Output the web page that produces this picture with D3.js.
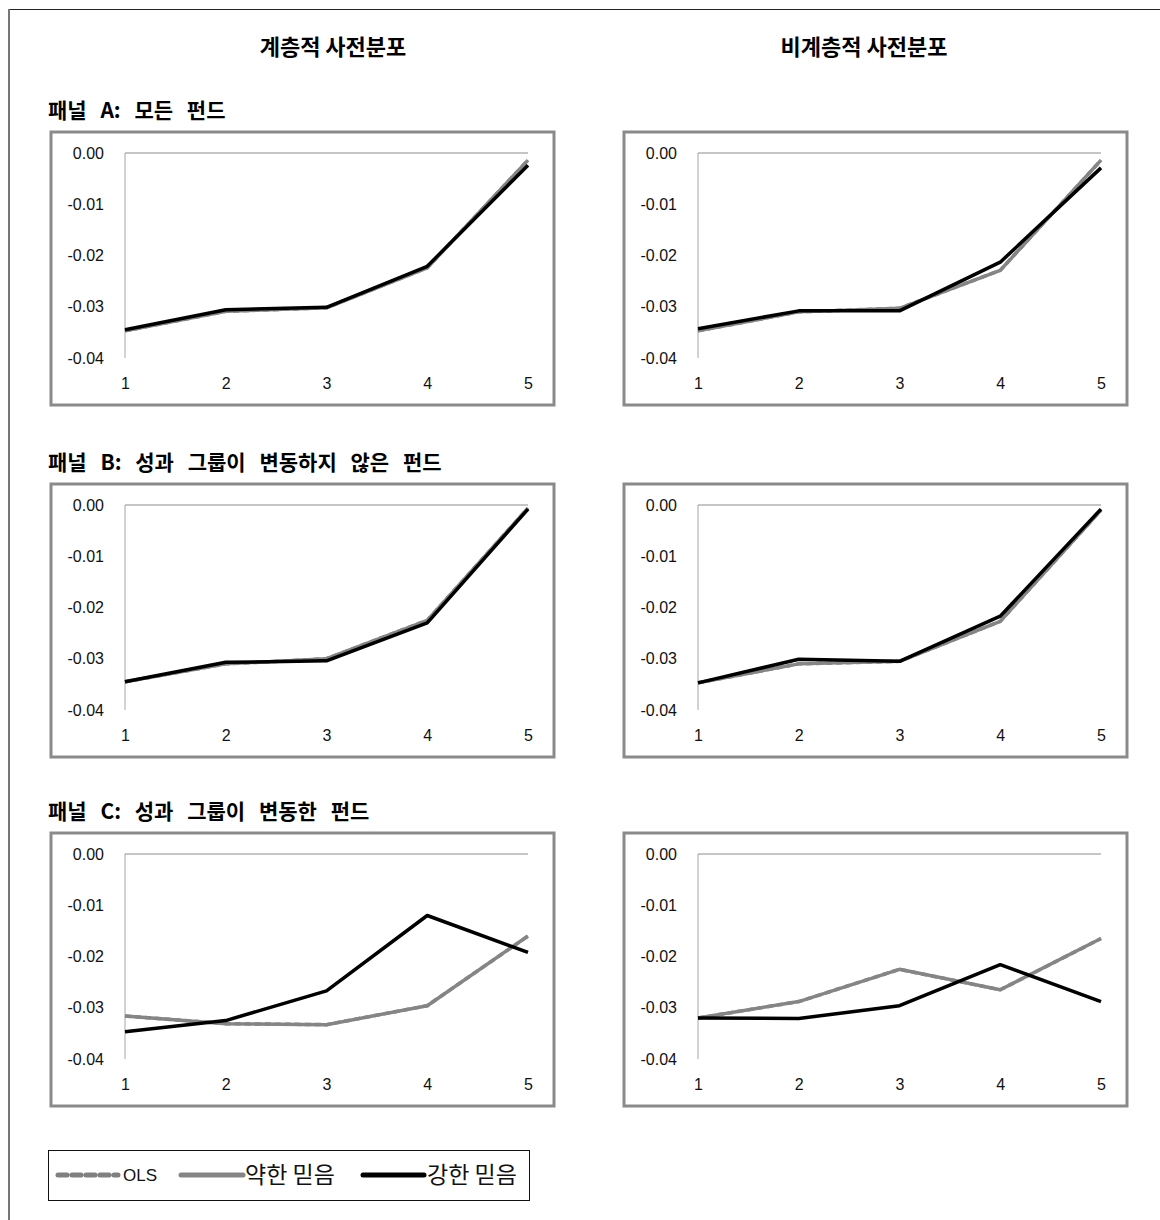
<!DOCTYPE html>
<html>
<head>
<meta charset="utf-8">
<script src="https://cdn.jsdelivr.net/npm/d3@7"></script>
<style>
  body { margin: 0; background: #fff; }
  svg text { font-family: "Liberation Sans", Arial, sans-serif; }
  .kr { font-family: "Noto Sans CJK KR", sans-serif; }
</style>
</head>
<body>
<div id="canvas"></div>
<script>
// categories on the x axis
const groups = [1, 2, 3, 4, 5];
const yTicks = [0, -0.01, -0.02, -0.03, -0.04];

const colTitles = ["계층적 사전분포", "비계층적 사전분포"];
const panelTitles = ["패널 A: 모든 펀드", "패널 B: 성과 그룹이 변동하지 않은 펀드", "패널 C: 성과 그룹이 변동한 펀드"];
const seriesNames = ["OLS", "약한 믿음", "강한 믿음"];

// Panel A
const aHierOls    = [-0.0347, -0.0309, -0.0302, -0.0224, -0.0014];
const aHierWeak   = [-0.0347, -0.0309, -0.0302, -0.0224, -0.0014];
const aHierStrong = [-0.0345, -0.0306, -0.0301, -0.0221, -0.0024];
const aFlatOls    = [-0.0347, -0.0310, -0.0303, -0.0229, -0.0014];
const aFlatWeak   = [-0.0347, -0.0310, -0.0303, -0.0229, -0.0014];
const aFlatStrong = [-0.0343, -0.0308, -0.0308, -0.0213, -0.0029];
// Panel B
const bHierOls    = [-0.0345, -0.0310, -0.0300, -0.0225, -0.0006];
const bHierWeak   = [-0.0345, -0.0310, -0.0300, -0.0225, -0.0006];
const bHierStrong = [-0.0345, -0.0307, -0.0304, -0.0230, -0.0008];
const bFlatOls    = [-0.0347, -0.0310, -0.0305, -0.0227, -0.0010];
const bFlatWeak   = [-0.0347, -0.0310, -0.0305, -0.0227, -0.0010];
const bFlatStrong = [-0.0347, -0.0301, -0.0305, -0.0217, -0.0008];
// Panel C
const cHierOls    = [-0.0316, -0.0331, -0.0333, -0.0296, -0.0160];
const cHierWeak   = [-0.0316, -0.0331, -0.0333, -0.0296, -0.0160];
const cHierStrong = [-0.0347, -0.0325, -0.0267, -0.0120, -0.0192];
const cFlatOls    = [-0.0320, -0.0288, -0.0225, -0.0265, -0.0165];
const cFlatWeak   = [-0.0320, -0.0288, -0.0225, -0.0265, -0.0165];
const cFlatStrong = [-0.0320, -0.0321, -0.0296, -0.0216, -0.0288];

const panels = [
  [[aHierOls, aHierWeak, aHierStrong], [aFlatOls, aFlatWeak, aFlatStrong]],
  [[bHierOls, bHierWeak, bHierStrong], [bFlatOls, bFlatWeak, bFlatStrong]],
  [[cHierOls, cHierWeak, cHierStrong], [cFlatOls, cFlatWeak, cFlatStrong]]
];

const width = 1160, height = 1220;
const svg = d3.select("#canvas").append("svg")
  .attr("width", width).attr("height", height);

// outer frame (top and left edges only)
svg.append("line").attr("x1", 9).attr("x2", width).attr("y1", 9.5).attr("y2", 9.5)
  .attr("stroke", "#222").attr("stroke-width", 1.2);
svg.append("line").attr("x1", 9).attr("x2", 9).attr("y1", 9).attr("y2", height)
  .attr("stroke", "#777").attr("stroke-width", 2);

const colX = [51, 624];
const rowY = [132, 484, 833];
const boxW = 503, boxH = 273;
const margin = {top: 21, left: 74, right: 26, bottom: 47};
const iwidth = boxW - margin.left - margin.right;
const iheight = boxH - margin.top - margin.bottom;

const styles = [
  {color: "#808080", w: 3.5, dash: "6,4"},
  {color: "#858585", w: 3.5, dash: null},
  {color: "#000", w: 3.5, dash: null}
];

const titleCenters = [333, 864];
colTitles.forEach((t, i) => {
  svg.append("text").attr("class", "kr")
    .attr("x", titleCenters[i]).attr("y", 55)
    .attr("text-anchor", "middle")
    .style("font-size", "22px").style("font-weight", "bold")
    .text(t);
});

panelTitles.forEach((t, r) => {
  svg.append("text").attr("class", "kr")
    .attr("x", 48).attr("y", rowY[r] - 14)
    .style("font-size", "21px").style("font-weight", "bold")
    .style("word-spacing", "9px")
    .text(t);
});

const x = d3.scalePoint().domain(groups).range([0, iwidth]);
const y = d3.scaleLinear().domain([-0.04, 0]).range([iheight, 0]);
const line = d3.line().x((d, i) => x(groups[i])).y(d => y(d));
const fmt = d => d3.format(".2f")(d).replace("−", "-");

panels.forEach((row, r) => {
  row.forEach((series, c) => {
    const box = svg.append("g").attr("transform", `translate(${colX[c]},${rowY[r]})`);
    box.append("rect").attr("x", 0).attr("y", 0).attr("width", boxW).attr("height", boxH)
      .attr("fill", "#fff").attr("stroke", "#8a8a8a").attr("stroke-width", 3);

    const g = box.append("g").attr("transform", `translate(${margin.left},${margin.top})`);

    // y axis: labels only plus a thin vertical line
    const yAxis = g.append("g").call(d3.axisLeft(y).tickValues(yTicks).tickFormat(fmt).tickSize(0).tickPadding(21));
    yAxis.select(".domain").remove();
    yAxis.selectAll("text").style("font-size", "16px").attr("fill", "#111");
    g.append("line").attr("x1", 0).attr("x2", 0).attr("y1", 0).attr("y2", iheight)
      .attr("stroke", "#a6a6a6").attr("stroke-width", 1);

    // category axis crosses at 0.00, labels sit at the bottom
    g.append("line").attr("x1", 0).attr("x2", iwidth).attr("y1", y(0)).attr("y2", y(0))
      .attr("stroke", "#8c8c8c").attr("stroke-width", 1);
    const xAxis = g.append("g").attr("transform", `translate(0,${iheight})`)
      .call(d3.axisBottom(x).tickSize(0).tickPadding(20));
    xAxis.select(".domain").remove();
    xAxis.selectAll("text").style("font-size", "16px").attr("fill", "#111");

    series.forEach((vals, k) => {
      const p = g.append("path").datum(vals)
        .attr("d", line).attr("fill", "none")
        .attr("stroke", styles[k].color).attr("stroke-width", styles[k].w)
        .attr("stroke-linejoin", "round");
      if (styles[k].dash) p.attr("stroke-dasharray", styles[k].dash);
    });
  });
});

// legend
const lg = svg.append("g").attr("transform", "translate(48,1150)");
lg.append("rect").attr("x", 0.5).attr("y", 0.5).attr("width", 481).attr("height", 50)
  .attr("fill", "#fff").attr("stroke", "#111").attr("stroke-width", 1);
const legendItems = [
  {x0: 10, x1: 70, tx: 75, size: 17, font: "Liberation Sans Narrow, Liberation Sans"},
  {x0: 133, x1: 195, tx: 197, size: 23, font: "Noto Sans CJK KR"},
  {x0: 315, x1: 376, tx: 379, size: 23, font: "Noto Sans CJK KR"}
];
legendItems.forEach((it, k) => {
  const l = lg.append("line").attr("x1", it.x0).attr("x2", it.x1).attr("y1", 25).attr("y2", 25)
    .attr("stroke", k === 0 ? "#808080" : styles[k].color).attr("stroke-width", 5);
  if (k === 0) l.attr("stroke-dasharray", "9,5").attr("stroke-linecap", "round");
  else l.attr("stroke-linecap", "round");
  lg.append("text").attr("x", it.tx).attr("y", 25).attr("dy", "0.35em")
    .style("font-family", it.font).style("font-size", it.size + "px")
    .attr("fill", "#111").text(seriesNames[k]);
});
</script>
</body>
</html>
